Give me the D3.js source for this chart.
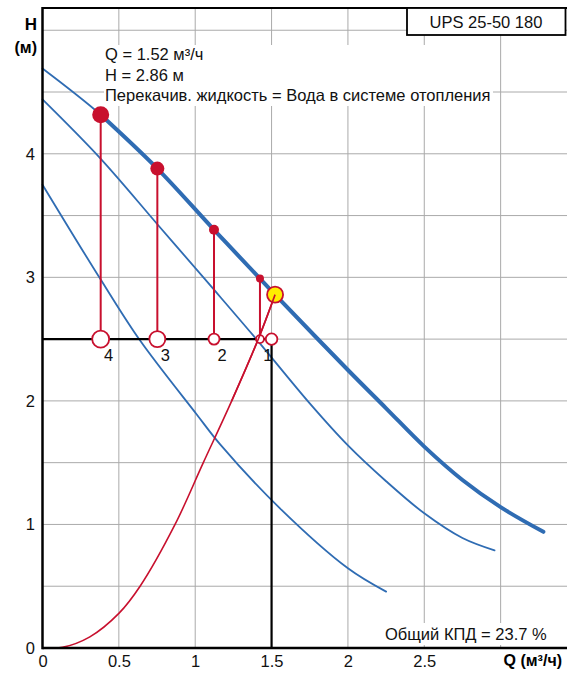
<!DOCTYPE html>
<html><head><meta charset="utf-8">
<script src="https://cdn.jsdelivr.net/npm/d3@7"></script>
<style>
html,body{margin:0;padding:0;background:#fff;}
svg text{font-family:"Liberation Sans",Arial,Helvetica,sans-serif;}
</style></head>
<body>
<svg id="c" width="567" height="674"></svg>
<script>
// ---- data ----
const xTicks = [0, 0.5, 1, 1.5, 2, 2.5];
const xTickLabels = ["0", "0.5", "1", "1.5", "2", "2.5"];
const yTicks = [0, 1, 2, 3, 4];
const yTickLabels = ["0", "1", "2", "3", "4"];
const xGrid = [0.5, 1, 1.5, 2, 2.5, 3];
const yGrid = [0.5, 1, 1.5, 2, 2.5, 3, 3.5, 4, 4.5, 5];

// pump curves (Q m3/h, H m)
const curveMaxQ = [0, 0.381, 0.752, 1.123, 1.424, 1.523, 2.0, 2.25, 2.5, 2.75, 3.0, 3.28];
const curveMaxH = [4.69, 4.316, 3.88, 3.385, 2.99, 2.86, 2.25, 1.94, 1.63, 1.36, 1.14, 0.94];
const curveMidQ = [0, 0.377, 0.752, 1.123, 1.40, 1.75, 2.0, 2.25, 2.5, 2.75, 2.96];
const curveMidH = [4.44, 3.965, 3.43, 2.9, 2.5, 1.98, 1.64, 1.35, 1.09, 0.89, 0.79];
const curveLowQ = [0, 0.377, 0.638, 1.01, 1.162, 1.555, 2.0, 2.25];
const curveLowH = [3.75, 2.99, 2.49, 1.89, 1.65, 1.13, 0.645, 0.456];
// system curve
const sysQ = [0, 0.13, 0.31, 0.5, 0.639, 0.868, 1.053, 1.239, 1.413, 1.523];
const sysH = [0, 0.005, 0.09, 0.28, 0.5, 1.0, 1.5, 2.0, 2.5, 2.86];

// operating point markers on max curve
const markerLabels = ["4", "3", "2", "1"];
const markerQ = [0.381, 0.752, 1.123, 1.424];
const markerH = [4.316, 3.88, 3.385, 2.99];
const markerSize = [8.5, 7, 5, 4];
const baseSize = [8.5, 8, 5.5, 4];
const refH = 2.5;      // horizontal reference line
const refQ = 1.5;      // vertical reference line
const dutyQ = 1.523, dutyH = 2.86;

const infoLines = ["Q = 1.52 м³/ч", "H = 2.86 м", "Перекачив. жидкость = Вода в системе отопления"];
const effText = "Общий КПД = 23.7 %";
const titleText = "UPS 25-50 180";

// ---- drawing ----
const FS = 16.5;
const svg = d3.select("#c");
const x = d3.scaleLinear().domain([0, 3.43]).range([42.5, 566.3]);
const y = d3.scaleLinear().domain([0, 5.18]).range([648, 8]);
const blue = "#2f6cb3", red = "#c8102e";

// grid
svg.append("g").selectAll("line").data(xGrid).join("line")
  .attr("x1", d => x(d)).attr("x2", d => x(d)).attr("y1", y(0)).attr("y2", y(5.18))
  .attr("stroke", "#aaa").attr("stroke-width", 1);
svg.append("g").selectAll("line").data(yGrid).join("line")
  .attr("x1", x(0)).attr("x2", 567).attr("y1", d => y(d)).attr("y2", d => y(d))
  .attr("stroke", "#aaa").attr("stroke-width", 1);

// top frame
svg.append("line").attr("x1", x(0)).attr("x2", 567).attr("y1", y(5.18)).attr("y2", y(5.18))
  .attr("stroke", "#000").attr("stroke-width", 2);

// text block (white background)
const info = svg.append("g");
info.append("rect").attr("x", 104).attr("y", 45).attr("width", 389).attr("height", 61).attr("fill", "#fff");
info.selectAll("text").data(infoLines).join("text")
  .attr("x", 105).attr("y", (d, i) => 60 + i * 20.5)
  .attr("font-size", FS).attr("fill", "#111").text(d => d);

const line = d3.line().x(d => x(d[0])).y(d => y(d[1])).curve(d3.curveCatmullRom.alpha(0.5));
const zip = (a, b) => a.map((v, i) => [v, b[i]]);

// pump curves
svg.append("path").attr("d", line(zip(curveLowQ, curveLowH))).attr("fill", "none")
  .attr("stroke", blue).attr("stroke-width", 1.8).attr("stroke-linecap", "round");
svg.append("path").attr("d", line(zip(curveMidQ, curveMidH))).attr("fill", "none")
  .attr("stroke", blue).attr("stroke-width", 1.8).attr("stroke-linecap", "round");
const maxPts = zip(curveMaxQ, curveMaxH);
svg.append("path").attr("d", line(maxPts)).attr("fill", "none")
  .attr("stroke", blue).attr("stroke-width", 1.8).attr("stroke-linecap", "round");
svg.append("path").attr("d", line(maxPts.filter(p => p[0] >= markerQ[0]))).attr("fill", "none")
  .attr("stroke", blue).attr("stroke-width", 4).attr("stroke-linecap", "round");

// axes
const xAxis = d3.axisBottom(x).tickValues(xTicks).tickFormat((d, i) => xTickLabels[i])
  .tickSize(0).tickSizeOuter(0).tickPadding(7.5);
const gx = svg.append("g").attr("transform", `translate(0,${y(0)})`).call(xAxis);
gx.select(".domain").remove();
gx.selectAll("text").attr("font-size", FS).attr("fill", "#111")
  .attr("font-family", '"Liberation Sans",Arial,sans-serif');
const yAxis = d3.axisLeft(y).tickValues(yTicks).tickFormat((d, i) => yTickLabels[i])
  .tickSize(0).tickSizeOuter(0).tickPadding(7.5);
const gy = svg.append("g").attr("transform", `translate(${x(0)},0)`).call(yAxis);
gy.select(".domain").remove();
gy.selectAll("text").attr("font-size", FS).attr("fill", "#111")
  .attr("font-family", '"Liberation Sans",Arial,sans-serif');

// system curve
svg.append("path").attr("d", line(zip(sysQ, sysH))).attr("fill", "none")
  .attr("stroke", red).attr("stroke-width", 1.6);

// axis lines
svg.append("line").attr("x1", x(0)).attr("x2", 567).attr("y1", y(0)).attr("y2", y(0))
  .attr("stroke", "#000").attr("stroke-width", 2.5);
svg.append("line").attr("x1", x(0)).attr("x2", x(0)).attr("y1", y(0) + 1.2).attr("y2", y(5.18) - 1)
  .attr("stroke", "#000").attr("stroke-width", 2.5);

// reference lines
svg.append("line").attr("x1", x(0)).attr("x2", x(refQ)).attr("y1", y(refH)).attr("y2", y(refH))
  .attr("stroke", "#000").attr("stroke-width", 2.2);
svg.append("line").attr("x1", x(refQ)).attr("x2", x(refQ)).attr("y1", y(refH)).attr("y2", y(0))
  .attr("stroke", "#000").attr("stroke-width", 2.2);

// marker stems
const mk = markerQ.map((q, i) => ({q, h: markerH[i], r: markerSize[i], rb: baseSize[i], lab: markerLabels[i]}));
svg.append("g").selectAll("line").data(mk).join("line")
  .attr("x1", d => x(d.q)).attr("x2", d => x(d.q))
  .attr("y1", d => y(d.h)).attr("y2", d => y(refH))
  .attr("stroke", red).attr("stroke-width", 2);
// filled markers
svg.append("g").selectAll("circle").data(mk).join("circle")
  .attr("cx", d => x(d.q)).attr("cy", d => y(d.h)).attr("r", d => d.r).attr("fill", red);
// open markers
svg.append("g").selectAll("circle").data(mk).join("circle")
  .attr("cx", d => x(d.q)).attr("cy", y(refH)).attr("r", d => d.rb)
  .attr("fill", "#fff").attr("stroke", red).attr("stroke-width", 1.8);
svg.append("circle").attr("cx", x(refQ)).attr("cy", y(refH)).attr("r", 5.8)
  .attr("fill", "#fff").attr("stroke", red).attr("stroke-width", 1.8);
// marker labels
svg.append("g").selectAll("text").data(mk).join("text")
  .attr("x", d => x(d.q) + 8).attr("y", y(refH) + 22).attr("text-anchor", "middle")
  .attr("font-size", FS).attr("fill", "#111").text(d => d.lab);

// duty point
svg.append("circle").attr("cx", x(dutyQ)).attr("cy", y(dutyH)).attr("r", 8)
  .attr("fill", "#ffee00").attr("stroke", red).attr("stroke-width", 1.8);
// redraw end of system curve over the yellow point
svg.append("path").attr("d", line(zip(sysQ, sysH).filter(p => p[0] >= 1.239))).attr("fill", "none")
  .attr("stroke", red).attr("stroke-width", 1.6);

// efficiency text
svg.append("rect").attr("x", 382).attr("y", 623).attr("width", 168).attr("height", 22).attr("fill", "#fff");
svg.append("text").attr("x", 385).attr("y", 640).attr("font-size", FS).attr("fill", "#111").text(effText);

// title box
svg.append("rect").attr("x", 407).attr("y", 8).attr("width", 158.5).attr("height", 27)
  .attr("fill", "#fff").attr("stroke", "#000").attr("stroke-width", 1.8);
svg.append("text").attr("x", 486).attr("y", 27.5).attr("text-anchor", "middle")
  .attr("font-size", FS).attr("fill", "#111").text(titleText);

// axis titles
svg.append("text").attr("x", 37).attr("y", 30).attr("text-anchor", "end")
  .attr("font-size", 17).attr("font-weight", "bold").text("H");
svg.append("text").attr("x", 37).attr("y", 53).attr("text-anchor", "end")
  .attr("font-size", 16).attr("font-weight", "bold").text("(м)");
svg.append("text").attr("x", 562).attr("y", 666).attr("text-anchor", "end")
  .attr("font-size", 16).attr("font-weight", "bold").text("Q (м³/ч)");
</script>
</body></html>
